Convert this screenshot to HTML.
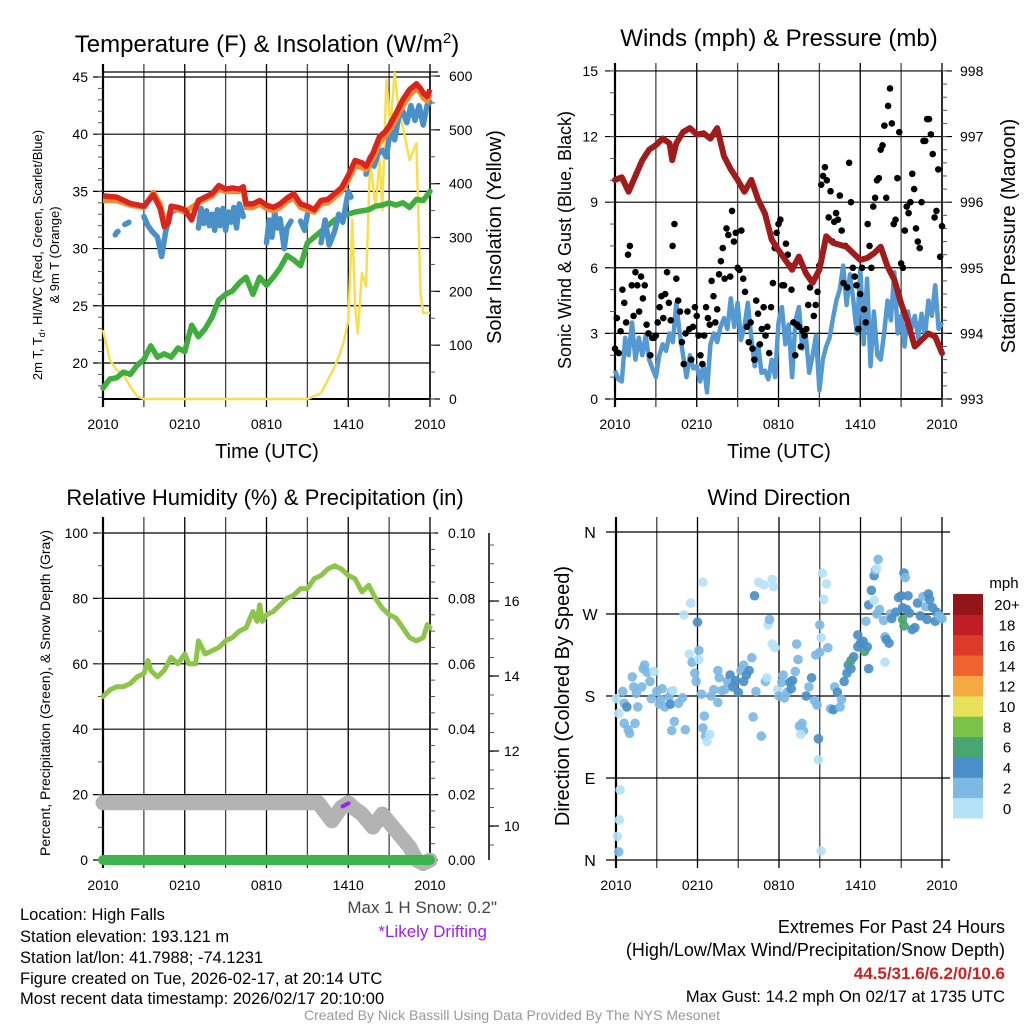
<!DOCTYPE html>
<html><head><meta charset="utf-8">
<style>
html,body{margin:0;padding:0;background:#fff;}
svg{display:block;font-family:"Liberation Sans",sans-serif;}
</style></head>
<body>
<svg id="fig" width="1024" height="1024" viewBox="0 0 1024 1024" xmlns="http://www.w3.org/2000/svg">
<g id="layer"></g>
</svg>
<script>
// ---------- DATA ----------
var tempHours = [0,1,2,3,3.7,4.2,4.5,4.8,5,5.5,6,6.5,7,7.5,8,8.5,9,9.5,10,10.3,10.5,11,11.5,12,12.5,13,13.5,14,14.5,15,15.5,16,16.5,17,17.5,18,18.5,19,19.3,19.8,20.3,20.7,21,21.5,22,22.5,23,23.3,23.5,23.8,24];
var temp2m    = [34.6,34.5,33.95,33.7,34.7,33.5,31.9,32.3,33.7,33.6,33.4,32.5,34.2,34.5,34.8,35.5,35.2,35.3,35.2,35.4,33.9,33.9,34.2,33.8,33.6,33.9,34.4,34.8,33.9,33.7,33.4,34.2,34.3,34.8,35.3,36.4,37.7,37.5,37.2,38.3,39.8,40.2,40.7,41.8,43.0,43.9,44.4,44.0,43.6,43.3,43.9];
var temp9m    = [34.2,34.2,33.8,33.6,34.9,33.9,32.4,32.8,33.5,33.4,33.2,33.6,34.0,34.3,34.6,35.2,35.0,35.0,35.0,35.1,33.6,33.6,33.9,33.5,33.3,33.6,34.1,34.4,33.6,33.4,33.2,33.9,34.0,34.5,35.0,36.0,37.2,37.1,36.9,37.8,39.3,39.8,40.3,41.3,42.5,43.4,44.0,43.6,43.2,42.9,43.5];
var hiwcHours = [0.9,1.0,1.1,null,1.6,1.9,null,3.0,3.3,3.6,4.0,4.3,4.6,5.0,5.4,null,7.0,7.2,7.4,7.6,7.8,8.0,8.2,8.4,8.6,8.8,9.0,9.2,9.4,9.6,9.8,10.0,10.3,null,12.0,12.2,12.4,12.6,12.8,13.0,13.3,13.5,13.8,null,14.5,14.8,15.0,null,16.0,16.3,16.6,17.0,17.3,17.6,18.0,18.2,null,19.3,19.6,19.9,20.2,20.5,20.8,21.1,21.4,21.7,22.0,22.3,22.6,22.9,23.2,23.5,23.8,24.0];
var hiwcVals  = [31.2,31.4,31.5,null,32.1,32.3,null,32.8,32.0,31.5,31.0,29.3,31.5,33.2,33.4,null,31.8,33.5,32.2,33.3,32.0,33.0,31.6,33.4,32.0,33.5,31.6,33.2,32.3,33.6,31.8,33.9,32.8,null,30.5,32.5,31.0,33.2,31.8,32.6,30.0,31.8,32.4,null,32.4,31.6,33.0,null,30.5,32.5,30.3,31.5,33.0,32.3,35.0,34.5,null,36.5,38.0,37.2,38.3,38.6,38.0,40.5,39.5,41.5,42.0,41.0,42.5,41.2,42.5,40.8,42.6,42.8];
var dewHours = [0,0.5,1,1.5,2,2.5,3,3.5,4,4.5,5,5.5,6,6.5,7,7.5,8,8.5,9,9.5,10,10.5,11,11.5,12,12.5,13,13.5,14,14.5,15,15.5,16,16.5,17,17.5,18,18.5,19,19.5,20,20.5,21,21.5,22,22.5,23,23.5,24];
var dewVals  = [17.8,18.6,18.7,19.2,19.0,19.8,20.3,21.5,20.5,20.8,20.5,21.3,21.0,23.3,22.3,23.0,24.0,25.5,26.0,26.3,27.0,27.5,26.0,27.5,26.8,27.5,28.3,29.4,29.0,28.5,30.5,31.0,31.5,32.0,32.5,32.8,33.0,33.2,33.3,33.4,33.7,33.8,34.0,33.8,34.0,33.6,34.3,34.2,35.0];
var solarHours = [0,0.5,1,1.5,2,2.5,3,6,9,12,15,16,17,17.4,17.7,18,18.3,18.5,18.7,19,19.3,19.6,20,20.3,20.5,20.8,21.1,21.4,21.7,22,22.5,23,23.3,23.5,24];
var solarVals  = [128,73,54,45,23,5,0,0,0,0,0,11,60,85,110,147,333,172,122,234,209,444,357,444,351,593,506,606,537,506,444,475,197,160,160];

var windVals  = [1.3,0.9,0.8,2.8,2.0,3.5,1.8,2.8,2.0,2.9,1.8,1.4,1.0,2.0,2.5,2.2,3.0,2.6,4.4,3.0,2.0,1.0,2.0,1.4,1.5,0.8,1.6,0.3,2.5,3.0,2.6,3.3,3.7,3.2,4.6,3.3,4.4,2.7,3.3,4.4,2.8,1.5,2.5,1.2,1.3,0.9,1.8,1.0,3.5,4.2,2.5,3.4,1.0,3.6,4.2,2.3,2.9,1.2,2.0,2.9,0.4,1.8,2.4,2.8,3.7,4.5,5.0,6.1,4.3,5.7,4.5,3.0,6.0,2.5,5.5,1.5,4.0,2.0,1.8,3.0,4.5,3.6,5.8,3.0,3.8,2.4,4.0,3.2,3.8,2.8,3.9,2.9,4.5,3.8,5.2,3.2,3.5];
var gustVals = [2.3,3.7,2.1,3.1,5.0,4.4,3.5, 6.6,7.0,5.2,3.8,5.8,5.2,4.0, 5.6,4.6,5.2,3.4,3.0,2.0,2.8, 2.8,2.9,3.5,4.2,4.7,3.7,4.8,
  5.8,4.4,3.6,7.0,8.0,5.5,4.5, 4.0,2.6,1.6,3.0,4.0,3.2,1.8, 3.3,4.2,3.8,2.9,2.0,1.6,2.9, 4.2,3.7,3.4,5.4,4.7,3.5,4.1,
  5.7,6.3,6.9,5.5,7.8,7.5,5.6, 8.6,7.2,7.6,6.0,5.9,7.7,5.5, 4.9,3.3,2.6,3.5,2.3,1.8,4.5, 3.9,2.5,3.2,4.2,2.9,3.3,2.1,
  4.2,5.3,6.9,7.6,8.0,8.2,5.2, 5.2,7.1,6.6,6.1,5.0,3.5,2.0, 3.4,3.3,2.4,3.1,2.9,3.2,4.3, 5.1,5.4,3.8,4.3,4.9,6.1,9.8,
  10.2,10.6,10.0,8.3,9.5,7.2,8.1, 8.5,8.2,9.3,7.7,5.3,7.0,5.1, 10.8,9.0,6.0,5.6,5.2,3.2,4.8, 6.0,4.1,3.5,8.0,7.0,6.0,8.8,
  9.2,10.0,10.1,11.4,11.6,12.5,9.2, 13.4,14.2,12.6,8.0,8.2,10.1,12.2, 6.2,6.0,7.7,8.8,8.5,9.0,10.3, 9.6,7.8,7.2,6.9,9.0,11.8,11.8,
  12.8,12.8,12.1,11.2,8.3,8.6,10.5,6.5,7.9];
var presHours = [0,0.5,1,1.5,2,2.5,3,3.5,4,4.2,4.5,5,5.5,6,6.5,7,7.5,8,8.5,9,9.5,10,10.5,11,11.5,12,12.5,13,13.5,14,14.5,15,15.5,16,17,17.5,18,18.5,19,19.5,20,20.5,21,21.5,22,22.5,23,23.5,24];
var presVals  = [996.34,996.38,996.16,996.4,996.64,996.8,996.87,996.97,996.9,996.64,996.9,997.07,997.13,997.03,997.05,996.97,997.13,996.7,996.5,996.34,996.16,996.34,996.04,995.83,995.43,995.27,995.12,994.97,995.17,994.92,994.77,994.97,995.48,995.38,995.32,995.22,995.12,995.15,995.22,995.32,995.02,994.82,994.46,994.16,993.8,993.9,994.0,993.95,993.7];

var rhHours = [0,0.5,1,1.5,2,2.5,3,3.3,3.5,4,4.5,5,5.5,6,6.3,6.8,7,7.5,8,8.5,9,9.5,10,10.5,11,11.3,11.5,11.7,12,12.5,13,13.5,14,14.5,15,15.5,16,16.5,17,17.5,18,18.5,19,19.5,20,20.5,21,21.5,22,22.5,23,23.5,23.8,24];
var rhVals  = [50,52,53,53,54,56,57,61,58,56,58,62,60,63,60,60,67,63,64,65,67,68,70,71,76,73,78,73,75,76,78,80,81,83,83,86,87,89,90,89,87,86,82,84,80,77,75,74,71,68,67,68,72,71];
var snowHours = [0,15.8,16.8,17.5,18.0,18.5,19.0,19.8,20.5,21.5,22.5,23.0,23.5,24];
var snowDepth = [10.62,10.62,10.14,10.5,10.62,10.45,10.32,9.97,10.32,9.88,9.44,9.09,9.0,9.09];
var precipHours = [0,24];
var precipVals  = [0,0];

var dirHours = [0.0,0.1,0.2,0.25,0.3,0.2,0.5,0.6,0.8,0.6,0.9,1.0,1.2,1.3,1.5,1.6,1.4,1.9,2.0,2.1,2.3,2.5,2.8,2.6,3.0,3.2,3.3,3.4,3.6,3.9,4.0,4.1,4.3,4.1,4.2,4.6,4.9,5.0,5.1,5.4,5.5,5.6,5.8,5.9,6.0,6.1,6.3,6.1,6.4,6.6,6.5,6.7,6.9,6.4,7.0,7.2,7.5,7.5,7.6,7.8,8.0,8.2,8.4,8.5,8.6,8.8,9.0,9.2,9.4,9.4,9.6,9.8,10.0,10.1,10.3,10.2,10.5,10.7,10.9,11.0,11.1,11.2,11.3,11.5,11.6,11.5,11.7,11.9,12.0,12.2,12.3,12.4,12.6,12.8,12.9,13.0,13.2,13.4,13.3,13.5,13.7,13.8,13.6,14.0,14.2,14.4,14.6,14.8,14.7,14.9,14.9,15.0,15.0,15.1,15.2,15.3,15.5,15.1,15.6,15.8,16.0,16.1,16.3,16.5,16.6,16.8,17.0,17.1,17.3,17.3,17.5,17.8,18.0,18.2,17.8,18.4,18.6,18.3,18.5,18.6,18.8,19.0,19.1,19.2,19.3,19.0,19.2,19.4,19.7,19.8,19.9,20.1,19.8,20.2,20.3,20.6,20.8,21.0,21.1,21.2,21.3,21.1,21.2,21.4,21.5,21.6,21.8,22.0,22.2,22.4,22.6,22.8,22.9,23.0,23.1,23.3,23.5,23.6,23.8,24.0];
var dirDeg = [177,26,9,44,77,161,185,172,168,150,143,139,201,190,183,168,150,190,210,214,206,196,207,177,185,171,176,188,168,179,171,185,152,142,186,172,178,269,143,226,282,217,205,196,261,230,182,220,145,136,158,130,138,305,180,187,173,208,200,186,187,196,203,195,190,197,184,208,214,196,203,208,222,157,185,290,305,136,302,196,200,258,264,308,300,237,233,187,180,195,203,178,184,195,188,197,207,220,237,147,150,142,138,180,190,200,175,170,225,110,133,228,258,244,315,286,303,10,233,166,165,190,184,168,176,196,205,214,219,210,223,234,238,240,247,262,280,229,234,210,296,312,318,320,330,285,270,275,263,245,242,238,217,270,265,272,288,290,277,315,310,264,257,275,290,271,253,255,282,268,289,278,264,292,286,277,262,272,268,265];
var dirSpeed = [1,1,3,1,1,1,3,3,4.5,3,3,3,3,3,3,3,3,3,3,3,3,3,1,3,3,3,3,3,3,3,4.5,3,3,3,1,3,3,1,3,1,1,3,3,3,4.5,3,3,1,3,3,3,1,1,1,3,3,3,3,3,3,3,3,4.5,3,4.5,4.5,4.5,3,3,4.5,4.5,4.5,3,3,3,4.5,1,3,1,3,1,1,3,1,1,1,1,1,3,3,3,3,3,4.5,4.5,4.5,3,3,3,3,3,3,1,4.5,3,4.5,3,3,3,1,4.5,3,3,1,1,1,1,1,3,3,4.5,3,4.5,3,3,4.5,5,5,7,5,5,5,5,4.5,5,3,4.5,7,5,4.5,4.5,4.5,3,1,3,1,3,3,3,3,4.5,4.5,1,3,4.5,4.5,5,5,5,5,3,7,7,4.5,4.5,5,5,5,4.5,4.5,3,3,4.5,5,5,4.5,5,5,3,3];

var xTickLabels = ["2010","0210","0810","1410","2010"];
var tempTicks = [20,25,30,35,40,45];
var solarTicks = [0,100,200,300,400,500,600];
var windTicks = [0,3,6,9,12,15];
var presTicks = [993,994,995,996,997,998];
var rhTicks = [0,20,40,60,80,100];
var precipTicks = ["0.00","0.02","0.04","0.06","0.08","0.10"];
var snowTicks = [10,12,14,16];
var dirTicks = ["N","E","S","W","N"];
var cbarLabels = ["0","2","4","6","8","10","12","14","16","18","20+"];
var cbarColors = ["#b4e3f7","#7db9e4","#4a8fc7","#49a66f","#7bc24b","#e8e15a","#f6a843","#ef6330","#dd3a2b","#c01e26","#921519"];

// ---------- HELPERS ----------
var NS="http://www.w3.org/2000/svg";
var layer=document.getElementById('layer');
function mk(tag, attrs, parent){var e=document.createElementNS(NS,tag);for(var k in attrs)e.setAttribute(k,attrs[k]);(parent||layer).appendChild(e);return e;}
function txt(s,x,y,size,anchor,parent,extra){var t=mk('text',Object.assign({x:x,y:y,'font-size':size,'text-anchor':anchor||'middle',fill:'#000'},extra||{}),parent);t.textContent=s;return t;}
function pathFrom(hs,vs,xf,yf){var d='',pen=false;for(var i=0;i<hs.length;i++){if(hs[i]===null||vs[i]===null){pen=false;continue;}d+=(pen?'L':'M')+xf(hs[i]).toFixed(1)+' '+yf(vs[i]).toFixed(1)+' ';pen=true;}return d;}
function evenHours(n){var a=[];for(var i=0;i<n;i++)a.push(i*24/(n-1));return a;}

function panel(name,x0,x1,yTop,yBot,yFrameTop){
  var g=mk('g',{});
  
  
  var xf=function(h){return x0+h*(x1-x0)/24;};
  for(var i=0;i<=8;i++){var x=xf(i*3);mk('line',{x1:x,x2:x,y1:yFrameTop-8,y2:yBot+8,stroke:(i%2?'#444':'#000'),'stroke-width':(i===0?2.2:1.3)},g);}
  for(var j=0;j<xTickLabels.length;j++){var t=txt(xTickLabels[j],xf(j*6),yBot+30,14,'middle',g);}
  return {g:g,xf:xf};
}
function hgrid(g,x0,x1,y,lenL,lenR){mk('line',{x1:x0-lenL,x2:x1+lenR,y1:y,y2:y,stroke:'#000','stroke-width':1.2},g);}
function minorTicks(g,x,yA,yB,step,dir){for(var y=yA;y<=yB+0.1;y+=step){mk('line',{x1:x,x2:x+dir*5,y1:y,y2:y,stroke:'#555','stroke-width':1},g);}}

// ---------- PANEL 1: Temperature ----------
(function(){
  var P=panel('temperature-panel',103,430,77,399,72);var g=P.g,xf=P.xf;
  var yT=function(v){return 399-(v-16.85)*11.44;};
  var yS=function(w){return 399-w*0.5383;};
  mk('line',{x1:103,x2:438,y1:72,y2:72,stroke:'#000','stroke-width':1.3},g);
  mk('line',{x1:103,x2:430,y1:399,y2:399,stroke:'#000','stroke-width':2},g);
  mk('line',{x1:430,x2:430,y1:72,y2:399,stroke:'#000','stroke-width':1.5},g);
  tempTicks.forEach(function(v){hgrid(g,103,430,yT(v),10,0);var t=txt(String(v),88,yT(v)+5,14,'end',g);});
  solarTicks.forEach(function(v){mk('line',{x1:430,x2:440,y1:yS(v),y2:yS(v),stroke:'#000','stroke-width':1.2},g);var t=txt(String(v),449,yS(v)+5,14,'start',g);});
  minorTicks(g,103,yT(45),yT(17),11.44,-1);
  minorTicks(g,430,yS(600),yS(0),yS(0)-yS(50),1);
  var s;
  s=mk('path',{d:pathFrom(solarHours,solarVals,xf,yS),fill:'none',stroke:'#f7df4f','stroke-width':2.5,'stroke-linejoin':'round'},g);
  
  s=mk('path',{d:pathFrom(dewHours,dewVals,xf,yT),fill:'none',stroke:'#3fae3c','stroke-width':5.5,'stroke-linejoin':'round','stroke-linecap':'round'},g);
  
  s=mk('path',{d:pathFrom(hiwcHours,hiwcVals,xf,yT),fill:'none',stroke:'#4a90c8','stroke-width':5.5,'stroke-linejoin':'round','stroke-linecap':'round'},g);
  
  s=mk('path',{d:pathFrom(tempHours,temp9m,xf,yT),fill:'none',stroke:'#f38a2f','stroke-width':5.5,'stroke-linejoin':'round'},g);
  
  s=mk('path',{d:pathFrom(tempHours,temp2m,xf,yT),fill:'none',stroke:'#d8261f','stroke-width':5.5,'stroke-linejoin':'round'},g);
  
  var t=mk('text',{x:267,y:52,'font-size':24,'text-anchor':'middle',fill:'#000'},g);
  t.innerHTML='Temperature (F) &amp; Insolation (W/m<tspan dy="-9" font-size="15">2</tspan><tspan dy="9">)</tspan>';
  
  t=txt('Time (UTC)',267,458,20,'middle',g);
  t=mk('text',{transform:'translate(42,255) rotate(-90)','font-size':13,'text-anchor':'middle',fill:'#000'},g);
  t.innerHTML='2m T, T<tspan dy="3" font-size="9">d</tspan><tspan dy="-3">, HI/WC (Red, Green, Scarlet/Blue)</tspan>';
  
  t=txt('& 9m T (Orange)',0,0,13,'middle',g,{transform:'translate(59,255) rotate(-90)'});
  t=txt('Solar Insolation (Yellow)',0,0,20,'middle',g,{transform:'translate(501,237) rotate(-90)'});
})();

// ---------- PANEL 2: Winds ----------
(function(){
  var P=panel('winds-panel',615,942,71,399,71);var g=P.g,xf=P.xf;
  var yW=function(v){return 399-v*21.87;};
  var yP=function(p){return 399-(p-993)*65.6;};
  mk('line',{x1:615,x2:942,y1:399,y2:399,stroke:'#000','stroke-width':2},g);
  mk('line',{x1:942,x2:942,y1:71,y2:399,stroke:'#000','stroke-width':1.5},g);
  windTicks.forEach(function(v){hgrid(g,615,942,yW(v),10,10);var t=txt(String(v),598,yW(v)+5,14,'end',g);});
  presTicks.forEach(function(v){var t=txt(String(v),960,yP(v)+5,14,'start',g);});
  minorTicks(g,615,yW(15),yW(0),yW(0)-yW(1),-1);
  minorTicks(g,942,yP(998),yP(993),13.12,1);
  var s=mk('path',{d:pathFrom(evenHours(windVals.length),windVals,xf,yW),fill:'none',stroke:'#5499d2','stroke-width':4.5,'stroke-linejoin':'round'},g);
  
  var gh=evenHours(gustVals.length);
  for(var i=0;i<gustVals.length;i++){
    var c=mk('circle',{cx:xf(gh[i]),cy:yW(gustVals[i]),r:3.3,fill:'#000'},g);
    
    
  }
  s=mk('path',{d:pathFrom(presHours,presVals,xf,yP),fill:'none',stroke:'#a01c1c','stroke-width':6,'stroke-linejoin':'round','stroke-linecap':'round'},g);
  
  var t=txt('Winds (mph) & Pressure (mb)',779,46,24,'middle',g);
  t=txt('Time (UTC)',779,458,20,'middle',g);
  t=txt('Sonic Wind & Gust (Blue, Black)',0,0,18,'middle',g,{transform:'translate(571,240) rotate(-90)'});
  t=txt('Station Pressure (Maroon)',0,0,20,'middle',g,{transform:'translate(1015,236) rotate(-90)'});
})();

// ---------- PANEL 3: RH & Precip ----------
(function(){
  var P=panel('humidity-panel',103,430,533,860,525);var g=P.g,xf=P.xf;
  var yR=function(v){return 860-v*3.27;};
  var yD=function(d){return 826-(d-10)*37.5;};
  var yPr=function(p){return 860-p*3270;};
  mk('line',{x1:430,x2:430,y1:533,y2:860,stroke:'#000','stroke-width':1.5},g);
  rhTicks.forEach(function(v,i){hgrid(g,103,430,yR(v),10,8);var t=txt(String(v),88,yR(v)+5,14,'end',g);
    var t2=txt(precipTicks[i],448,yR(v)+5,14,'start',g);});
  minorTicks(g,103,yR(100),yR(0),yR(0)-yR(10),-1);
  minorTicks(g,430,yR(100),yR(0),yR(0)-yR(5),1);
  mk('line',{x1:489,x2:489,y1:533,y2:860,stroke:'#000','stroke-width':1.5},g);
  minorTicks(g,489,545,860,18.75,1);
  snowTicks.forEach(function(v){mk('line',{x1:489,x2:499,y1:yD(v),y2:yD(v),stroke:'#000','stroke-width':1.2},g);var t=txt(String(v),504,yD(v)+5,14,'start',g);});
  var s=mk('path',{d:pathFrom(snowHours,snowDepth,xf,yD),fill:'none',stroke:'#b3b3b3','stroke-width':15,'stroke-linejoin':'round','stroke-linecap':'round'},g);
  
  s=mk('path',{d:'M'+(xf(17.8)-3)+' '+(yD(10.55)+1)+' L'+(xf(17.8)+3)+' '+(yD(10.55)-2),stroke:'#a020f0','stroke-width':4,'stroke-linecap':'round'},g);
  
  s=mk('path',{d:pathFrom(precipHours,precipVals,xf,yPr),fill:'none',stroke:'#3cb44b','stroke-width':10,'stroke-linecap':'round'},g);
  
  s=mk('path',{d:pathFrom(rhHours,rhVals,xf,yR),fill:'none',stroke:'#8dc54a','stroke-width':5,'stroke-linejoin':'round','stroke-linecap':'round'},g);
  
  var t=txt('Relative Humidity (%) & Precipitation (in)',265,505,22,'middle',g);
  t=txt('Percent, Precipitation (Green), & Snow Depth (Gray)',0,0,14,'middle',g,{transform:'translate(50,693) rotate(-90)'});
  t=txt('Max 1 H Snow: 0.2"',497,913,17,'end',g,{fill:'#444'});
  t=txt('*Likely Drifting',487,937,17,'end',g,{fill:'#a020f0'});
})();

// ---------- PANEL 4: Wind Direction ----------
(function(){
  var P=panel('wind-direction-panel',616,942,532,860,525);var g=P.g,xf=P.xf;
  var yDir=function(d){return 860-d*0.9111;};
  dirTicks.forEach(function(lbl,i){var y=yDir(i*90);hgrid(g,616,942,y,10,8);var t=txt(lbl,590,y+6,16,'middle',g);});
  var colFor=function(s){var b=Math.min(10,Math.floor(s/2));return cbarColors[b];};
  for(var i=0;i<dirHours.length;i++){
    var c=mk('circle',{cx:xf(dirHours[i]),cy:yDir(dirDeg[i]),r:4.8,fill:colFor(dirSpeed[i]),'fill-opacity':0.92},g);
    
    
  }
  var t=txt('Wind Direction',779,505,22,'middle',g);
  t=txt('Direction (Colored By Speed)',0,0,20,'middle',g,{transform:'translate(569,696) rotate(-90)'});
  var cb=mk('g',{},g);
  
  var bh=(818-594)/cbarColors.length;
  for(var k=0;k<cbarColors.length;k++){
    var y=818-(k+1)*bh;
    var r=mk('rect',{x:953,y:y,width:30,height:bh+0.5,fill:cbarColors[k]},cb);
    
    var tl=txt(cbarLabels[k],1007,y+bh/2+6,15,'middle',cb);
  }
  t=txt('mph',1004,588,15,'middle',cb);
})();

// ---------- FOOTER ----------
(function(){
  var g=mk('g',{});
  var L=["Location: High Falls","Station elevation: 193.121 m","Station lat/lon: 41.7988; -74.1231","Figure created on Tue, 2026-02-17, at 20:14 UTC","Most recent data timestamp: 2026/02/17 20:10:00"];
  var Ly=[920,942,963,984,1004];
  L.forEach(function(s,i){var t=txt(s,20,Ly[i],16.5,'start',g);});
  var t=txt('Extremes For Past 24 Hours',1005,933,18,'end',g);
  t=txt('(High/Low/Max Wind/Precipitation/Snow Depth)',1005,956,18,'end',g);
  t=txt('44.5/31.6/6.2/0/10.6',1005,979,17,'end',g,{fill:'#cc2222','font-weight':'bold'});
  t=txt('Max Gust: 14.2 mph On 02/17 at 1735 UTC',1005,1002,16.5,'end',g);
  t=txt('Created By Nick Bassill Using Data Provided By The NYS Mesonet',512,1020,14,'middle',g,{fill:'#999'});
})();
</script>
</body></html>
